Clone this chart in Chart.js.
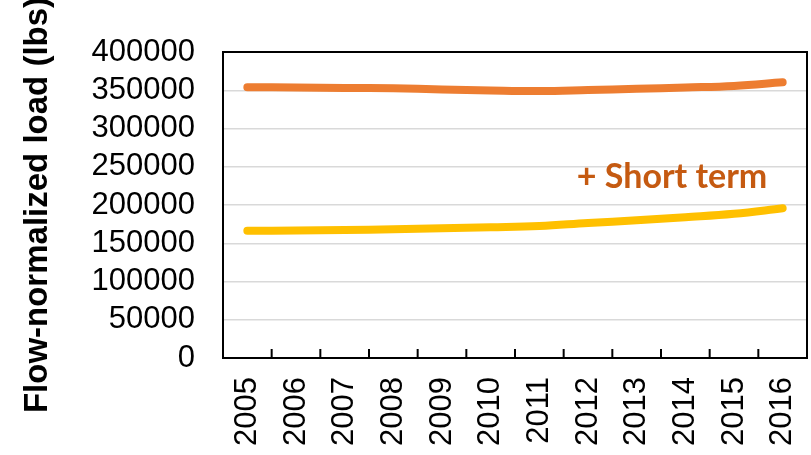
<!DOCTYPE html>
<html>
<head>
<meta charset="utf-8">
<script src="https://cdn.jsdelivr.net/npm/chart.js@4/dist/chart.umd.min.js"></script>
<style>
  html, body { margin: 0; padding: 0; background: #fff; }
  #wrap { width: 811px; height: 455px; }
</style>
</head>
<body>
<div id="wrap"><canvas id="chart_first"></canvas></div>
<script>
// categories (water years)
const years = ['2005', '2006', '2007', '2008', '2009', '2010', '2011', '2012', '2013', '2014', '2015', '2016'];

// flow-normalized load, lbs
const upperLoad = [353900, 353600, 353000, 352500, 351000, 349700, 349000, 350300, 351900, 353600, 355600, 360400];
const lowerLoad = [166400, 166600, 167200, 168200, 169500, 170800, 172500, 176500, 180000, 184000, 188500, 195700];

// y axis range
const yMin = 0;
const yMax = 400000;
const yStep = 50000;

// note placed on the chart
const noteText = '+ Short term';
const noteAt = { x: 6.77, y: 236500 };

// box around the plot + small inside ticks between categories (Excel look)
const frame_plugin = {
    id: 'frame',
    afterDatasetsDraw(chart) {
        const { ctx, scales: { x, y } } = chart;
        ctx.save();
        // annotation
        ctx.fillStyle = '#C55A11';
        ctx.font = 'bold 34px Lato';
        ctx.textAlign = 'left';
        ctx.textBaseline = 'middle';
        ctx.fillText(noteText, x.getPixelForValue(noteAt.x), y.getPixelForValue(noteAt.y));
        ctx.restore();
    },
    afterDraw(chart) {
        const { ctx, chartArea: a, scales: { x } } = chart;
        ctx.save();
        ctx.strokeStyle = '#000';
        ctx.lineWidth = 2;
        ctx.strokeRect(a.left, a.top, a.right - a.left, a.bottom - a.top);
        ctx.beginPath();
        for (let i = 1; i < years.length; i++) {
            const px = (x.getPixelForValue(i - 1) + x.getPixelForValue(i)) / 2;
            ctx.moveTo(px, a.bottom);
            ctx.lineTo(px, a.bottom - 9);
        }
        ctx.stroke();
        ctx.restore();
    }
};

const create_chart = (elem_id) => {
    const ctx = document.getElementById(elem_id).getContext('2d');
    return new Chart(ctx, {
        type: 'line',
        data: {
            labels: years,
            datasets: [
                {
                    label: 'Flow-normalized load',
                    data: upperLoad,
                    borderColor: '#ED7D31',
                    backgroundColor: '#ED7D31',
                    borderWidth: 8,
                    borderCapStyle: 'round',
                    borderJoinStyle: 'round',
                    pointRadius: 0,
                    tension: 0.4
                },
                {
                    label: 'Short term',
                    data: lowerLoad,
                    borderColor: '#FFC000',
                    backgroundColor: '#FFC000',
                    borderWidth: 8,
                    borderCapStyle: 'round',
                    borderJoinStyle: 'round',
                    pointRadius: 0,
                    tension: 0.4
                }
            ]
        },
        options: {
            responsive: true,
            maintainAspectRatio: false,
            animation: false,
            events: [],
            layout: { padding: { left: 0, top: 52, right: 4, bottom: 0 } },
            plugins: {
                legend: { display: false },
                tooltip: { enabled: false }
            },
            scales: {
                x: {
                    offset: true,
                    grid: { display: false, offset: true, drawTicks: false },
                    border: { display: false },
                    ticks: {
                        color: '#000',
                        font: { family: 'Liberation Sans', size: 31 },
                        minRotation: 90,
                        maxRotation: 90,
                        padding: 19,
                        autoSkip: false
                    },
                    afterFit: (scale) => {
                        scale.height = 97;
                        scale.paddingLeft = 0;
                        scale.paddingRight = 0;
                    }
                },
                y: {
                    min: yMin,
                    max: yMax,
                    ticks: {
                        stepSize: yStep,
                        autoSkip: false,
                        color: '#000',
                        font: { family: 'Liberation Sans', size: 31 },
                        padding: 28,
                        callback: (v) => String(v)
                    },
                    grid: { color: '#D9D9D9', lineWidth: 1.5, drawTicks: false },
                    border: { display: false },
                    title: {
                        display: true,
                        text: 'Flow-normalized load (lbs)',
                        color: '#000',
                        font: { family: 'Liberation Sans', size: 33, weight: 'bold' },
                        padding: { top: 18, bottom: 0 }
                    },
                    afterFit: (scale) => {
                        scale.width = 223;
                        scale.paddingTop = 0;
                        scale.paddingBottom = 0;
                    }
                }
            }
        },
        plugins: [frame_plugin]
    });
};

create_chart('chart_first');
</script>
</body>
</html>
